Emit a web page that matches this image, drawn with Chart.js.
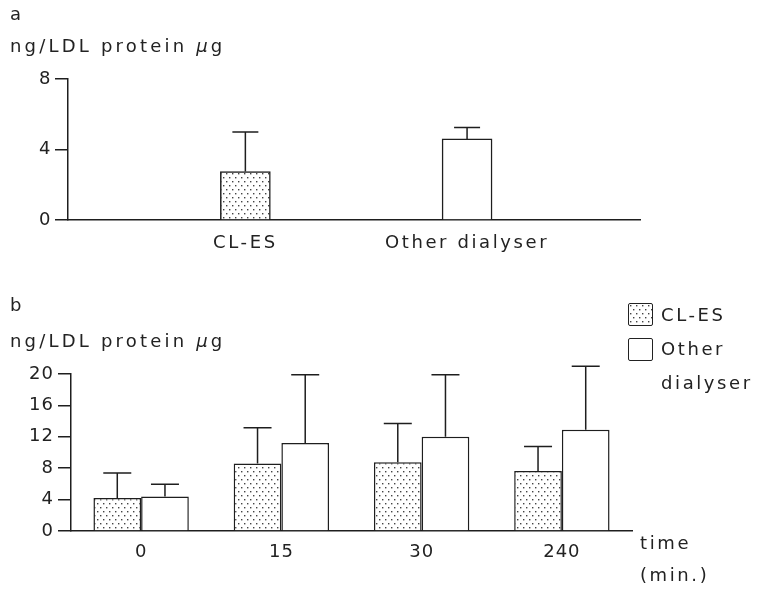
<!DOCTYPE html>
<html>
<head>
<meta charset="utf-8">
<script src="https://cdn.jsdelivr.net/npm/chart.js@4.4.1/dist/chart.umd.min.js"></script>
<style>
  body { margin: 0; background: #fff; }
  #wrap { position: relative; width: 757px; height: 591px; overflow: hidden; }
  #wrap canvas { position: absolute; left: 0; }
  .txt { position: absolute; font-family: "DejaVu Sans", sans-serif; font-size: 18px; letter-spacing: 2.6px;
         color: #222; line-height: 20px; white-space: nowrap; }
  .ttl { letter-spacing: 3.2px; }
  .txt i { font-style: italic; letter-spacing: 0; margin-right: 3px; }
  .box { position: absolute; width: 23px; height: 21px; border: 1.5px solid #222; border-radius: 2px; background: #fff; }
</style>
</head>
<body>
<div id="wrap">
  <canvas id="chartA" width="757" height="262" style="top:0"></canvas>
  <canvas id="chartB" width="757" height="329" style="top:262px"></canvas>

  <div class="txt" style="left:10px; top:4px">a</div>
  <div class="txt ttl" style="left:10px; top:36px">ng/LDL protein <i>μ</i>g</div>
  <div class="txt" style="left:10px; top:295px">b</div>
  <div class="txt ttl" style="left:10px; top:331px">ng/LDL protein <i>μ</i>g</div>

  <div class="box" id="legCles" style="left:628px; top:303px"></div>
  <div class="txt" style="left:661px; top:305px">CL-ES</div>
  <div class="box" style="left:628px; top:338px"></div>
  <div class="txt" style="left:661px; top:339px">Other</div>
  <div class="txt" style="left:661px; top:373px">dialyser</div>

  <div class="txt" style="left:640px; top:533px">time</div>
  <div class="txt" style="left:640px; top:565px">(min.)</div>
</div>

<script>
// panel a
const aCats = ['CL-ES', 'Other dialyser'];
const aMeans = [2.75, 4.6];
const aSD = [2.25, 0.65];
const aTicks = [0, 4, 8];

// panel b
const bTimes = ['0', '15', '30', '240'];
const bClesMeans = [4.2, 8.6, 8.75, 7.65];
const bClesSD = [3.2, 4.55, 4.95, 3.1];
const bOtherMeans = [4.4, 11.2, 12.0, 12.9];
const bOtherSD = [1.55, 8.7, 7.9, 8.1];
const bTicks = [0, 4, 8, 12, 16, 20];

const ink = '#1e1e1e';
const tickFont = { family: 'DejaVu Sans', size: 18 };

// stippled fill for CL-ES
const dotCanvas = document.createElement('canvas');
dotCanvas.width = 6; dotCanvas.height = 8;
const dg = dotCanvas.getContext('2d');
dg.fillStyle = '#fff'; dg.fillRect(0, 0, 6, 8);
dg.fillStyle = '#444';
dg.fillRect(1, 1, 1.4, 1.4);
dg.fillRect(4, 5, 1.4, 1.4);
const stipple = dg.createPattern(dotCanvas, 'repeat');
document.getElementById('legCles').style.background = 'url(' + dotCanvas.toDataURL() + ')';

// canvas text spacing like the printed figure
const spacing = {
    id: 'spacing',
    beforeLayout(chart, args, opts) { chart.ctx.letterSpacing = opts.px + 'px'; },
    beforeDraw(chart, args, opts) { chart.ctx.letterSpacing = opts.px + 'px'; }
};

// one-sided error bars (mean + SD)
const errorBars = {
    id: 'errorBars',
    afterDatasetsDraw(chart, args, opts) {
        const ctx = chart.ctx;
        const yScale = chart.scales.y;
        ctx.save();
        ctx.strokeStyle = ink;
        ctx.lineWidth = 1.5;
        chart.data.datasets.forEach(function(ds, i) {
            const meta = chart.getDatasetMeta(i);
            meta.data.forEach(function(bar, j) {
                const v = meta.controller.getParsed(j).y;
                const top = yScale.getPixelForValue(v + ds.sd[j]);
                ctx.beginPath();
                ctx.moveTo(bar.x, bar.y);
                ctx.lineTo(bar.x, top);
                ctx.moveTo(bar.x - opts.cap / 2, top);
                ctx.lineTo(bar.x + opts.cap / 2, top);
                ctx.stroke();
            });
        });
        ctx.restore();
    }
};

function yAxis(max, ticks, width, pad) {
    return {
        min: 0,
        max: max,
        afterBuildTicks: function(s) { s.ticks = ticks.map(function(t) { return { value: t }; }); },
        afterFit: function(s) { s.width = width; },
        ticks: { color: '#222', font: tickFont, padding: pad },
        grid: { drawOnChartArea: false, tickLength: 13, color: ink, lineWidth: 1.5 },
        border: { display: true, color: ink, width: 1.5 }
    };
}

// Gráfico a
const chartA = new Chart(document.getElementById('chartA'), {
    type: 'bar',
    data: {
        datasets: [{
            data: aMeans.map(function(v, i) { return { x: i + 1, y: v }; }),
            sd: aSD,
            backgroundColor: [stipple, '#fff'],
            borderColor: ink,
            borderWidth: 1.5,
            barThickness: 50
        }]
    },
    options: {
        responsive: false,
        animation: false,
        devicePixelRatio: 1,
        layout: { padding: { top: 79, right: 117, left: 0, bottom: 0 } },
        plugins: {
            legend: { display: false }, tooltip: { enabled: false },
            errorBars: { cap: 26 }, spacing: { px: 2.6 }
        },
        scales: {
            x: {
                type: 'linear',
                offset: false,
                min: 0.2,
                max: 2.78,
                afterBuildTicks: function(s) { s.ticks = aCats.map(function(c, i) { return { value: i + 1 }; }); },
                afterFit: function(s) { s.height = 42; },
                ticks: {
                    color: '#222', font: tickFont, padding: 13, maxRotation: 0,
                    callback: function(v) { return aCats[v - 1]; }
                },
                grid: { display: false, drawTicks: false },
                border: { display: true, color: ink, width: 1.5 }
            },
            y: yAxis(8, aTicks, 68, 2)
        }
    },
    plugins: [spacing, errorBars]
});

// Gráfico b
const chartB = new Chart(document.getElementById('chartB'), {
    type: 'bar',
    data: {
        labels: bTimes,
        datasets: [{
            label: 'CL-ES',
            data: bClesMeans,
            sd: bClesSD,
            backgroundColor: stipple,
            borderColor: ink,
            borderWidth: 1.5,
            categoryPercentage: 0.68,
            barPercentage: 1.0
        }, {
            label: 'Other dialyser',
            data: bOtherMeans,
            sd: bOtherSD,
            backgroundColor: '#fff',
            borderColor: ink,
            borderWidth: 1.5,
            categoryPercentage: 0.68,
            barPercentage: 1.0
        }]
    },
    options: {
        responsive: false,
        animation: false,
        devicePixelRatio: 1,
        layout: { padding: { top: 112, right: 125, left: 0, bottom: 0 } },
        plugins: {
            legend: { display: false }, tooltip: { enabled: false },
            errorBars: { cap: 28 }, spacing: { px: 1 }
        },
        scales: {
            x: {
                afterFit: function(s) { s.height = 60; },
                ticks: { color: '#222', font: tickFont, padding: 11, maxRotation: 0 },
                grid: { display: false, drawTicks: false },
                border: { display: true, color: ink, width: 1.5 }
            },
            y: yAxis(20, bTicks, 71, 4)
        }
    },
    plugins: [spacing, errorBars]
});
</script>
</body>
</html>
